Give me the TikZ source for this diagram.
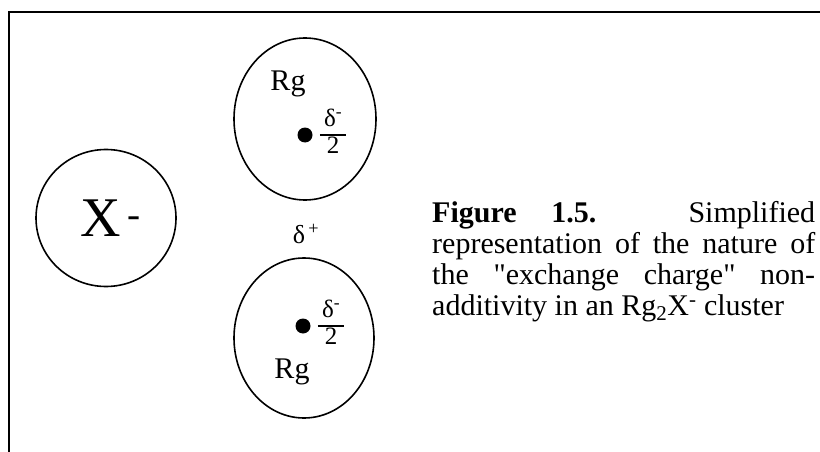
\documentclass[tikz,border=0pt]{standalone}
\usepackage{fontspec}
\setmainfont{Liberation Serif}
\usepackage{tikz}
\usetikzlibrary{positioning,shapes.geometric}
\setlength{\arrayrulewidth}{1.4pt}

\begin{document}
\begin{tikzpicture}[x=1pt, y=-1pt,
    atom/.style={draw, ellipse, inner sep=0pt, line width=1.6pt},
    core/.style={circle, fill, inner sep=0pt, minimum size=15pt},
    half/.style={inner sep=0pt, font=\fontsize{25}{25}\selectfont},
    lbl/.style={inner sep=0pt, font=\fontsize{30}{30}\selectfont}]
  \useasboundingbox (0,0) rectangle (820,452);
  \draw[line width=1.7pt] (9,452) -- (9,12) -- (820,12);
  \node[atom, minimum width=140pt, minimum height=137pt, font=\fontsize{56}{56}\selectfont] (xion) at (106,218) {\hspace*{10pt}X\textsuperscript{\,-}};
  \node[atom, minimum width=142pt, minimum height=162pt] (rgtop) at (305,119) {};
  \node[atom, minimum width=140pt, minimum height=160pt] (rgbot) at (304,338) {};
  \node[lbl] (rgtoplabel) at (288,84) {Rg};
  \node[core] (coretop) at (305,135) {};
  \node[half, right=7pt of coretop] (halftop) {\begin{tabular}{@{\,}c@{\,}}δ\textsuperscript{-}\\\hline 2\end{tabular}};
  \node[core] (corebot) at (303,326) {};
  \node[half, right=7pt of corebot] (halfbot) {\begin{tabular}{@{\,}c@{\,}}δ\textsuperscript{-}\\\hline 2\end{tabular}};
  \node[lbl] (rgbotlabel) at (292,372) {Rg};
  \node[inner sep=0pt, font=\fontsize{26}{26}\selectfont] (gap) at (306,234) {δ\textsuperscript{\,+}};
  \node[anchor=north west, inner sep=0pt, text width=383pt, align=justify, font=\fontsize{30}{31}\selectfont] (caption) at (432,201) {\textbf{Figure 1.5.} Simplified\linebreak representation of the nature of\linebreak the \textquotedbl exchange charge\textquotedbl{} non-\linebreak additivity in an Rg\textsubscript{2}X\textsuperscript{-} cluster};
\end{tikzpicture}
\end{document}
